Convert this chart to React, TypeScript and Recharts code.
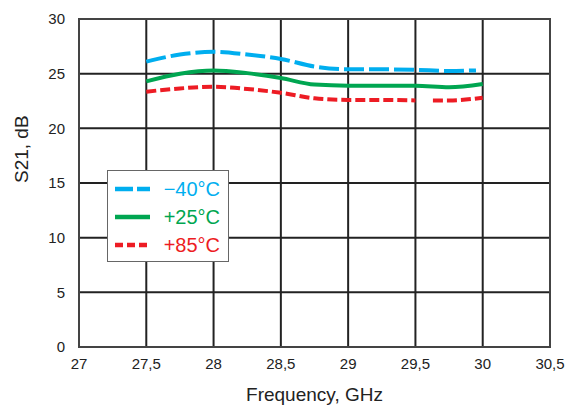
import {
  LineChart,
  Line,
  XAxis,
  YAxis,
  CartesianGrid,
  ReferenceArea,
} from "recharts";

const freqTicks = [27, 27.5, 28, 28.5, 29, 29.5, 30, 30.5];
const s21Ticks = [0, 5, 10, 15, 20, 25, 30];

const coldFreq = [27.5, 27.75, 28, 28.25, 28.5, 28.75, 29, 29.25, 29.5, 29.75, 29.95];
const coldS21 = [26.1, 26.75, 27.0, 26.75, 26.35, 25.65, 25.4, 25.4, 25.35, 25.25, 25.3];

const roomFreq = [27.5, 27.75, 28, 28.25, 28.5, 28.75, 29, 29.25, 29.5, 29.75, 30];
const roomS21 = [24.3, 25.0, 25.3, 25.05, 24.6, 24.0, 23.9, 23.9, 23.9, 23.75, 24.05];

const hotFreq = [27.5, 27.75, 28, 28.25, 28.5, 28.75, 29, 29.25, 29.5, 29.57, 29.63, 29.75, 30];
const hotS21 = [23.35, 23.65, 23.8, 23.6, 23.25, 22.75, 22.6, 22.6, 22.55, null, 22.55, 22.55, 22.8];

const toPoints = (f: number[], v: (number | null)[]) =>
  f.map((x, i) => ({ freq: x, s21: v[i] }));

const series = [
  { name: "\u221240\u00b0C", color: "#00aeef", dash: "20 5", legendDash: "18 4", data: toPoints(coldFreq, coldS21) },
  { name: "+25\u00b0C", color: "#00a651", dash: undefined, legendDash: undefined, data: toPoints(roomFreq, roomS21) },
  { name: "+85\u00b0C", color: "#ed1c24", dash: "10 4", legendDash: "8 4", data: toPoints(hotFreq, hotS21) },
];

const font = "Liberation Sans, Arial, sans-serif";
const fmt = (v: number) => String(v).replace(".", ",");

function LegendBox() {
  return (
    <div
      style={{
        position: "absolute",
        left: 107,
        top: 170,
        border: "1.5px solid #666",
        background: "#fff",
        width: 122,
        height: 92,
        boxSizing: "border-box",
        padding: "4px 8px 0 7px",
        fontFamily: font,
        fontSize: 20,
      }}
    >
      {series.map((s) => (
        <div
          key={s.name}
          style={{ display: "flex", alignItems: "center", justifyContent: "space-between", height: 28 }}
        >
          <svg width={35} height={8}>
            <line x1={0} y1={4} x2={35} y2={4} stroke={s.color} strokeWidth={4.5} strokeDasharray={s.legendDash} />
          </svg>
          <span style={{ color: s.color }}>{s.name}</span>
        </div>
      ))}
    </div>
  );
}

export default function App() {
  return (
    <div style={{ position: "absolute", left: 0, top: 0, width: 580, height: 406, background: "#fff" }}>
      <LineChart width={580} height={406} margin={{ top: 19, right: 30, bottom: 29, left: 19 }}>
        <CartesianGrid stroke="#222" strokeWidth={2} />
        <ReferenceArea
          x1={27}
          x2={30.5}
          y1={0}
          y2={30}
          fill="none"
          stroke="#444"
          strokeWidth={2}
          ifOverflow="visible"
        />
        <XAxis
          type="number"
          dataKey="freq"
          domain={[27, 30.5]}
          ticks={freqTicks}
          tickFormatter={fmt}
          axisLine={false}
          tickLine={false}
          height={30}
          tick={{ fill: "#222", fontSize: 15, fontFamily: font }}
          tickMargin={5}
          allowDuplicatedCategory={false}
          label={{
            value: "Frequency, GHz",
            position: "insideBottom",
            offset: -24,
            fill: "#222",
            fontSize: 19,
            fontFamily: font,
          }}
        />
        <YAxis
          type="number"
          domain={[0, 30]}
          ticks={s21Ticks}
          axisLine={false}
          tickLine={false}
          width={60}
          tickMargin={8}
          tick={{ fill: "#222", fontSize: 15, fontFamily: font }}
          label={{
            value: "S21, dB",
            angle: -90,
            position: "insideLeft",
            offset: 0,
            dx: 2,
            fill: "#222",
            fontSize: 19,
            fontFamily: font,
          }}
        />
        {series.map((s) => (
          <Line
            key={s.name}
            data={s.data}
            dataKey="s21"
            name={s.name}
            type="monotone"
            stroke={s.color}
            strokeWidth={4}
            strokeDasharray={s.dash}
            dot={false}
            activeDot={false}
            connectNulls={false}
            isAnimationActive={false}
          />
        ))}
      </LineChart>
      <LegendBox />
    </div>
  );
}
